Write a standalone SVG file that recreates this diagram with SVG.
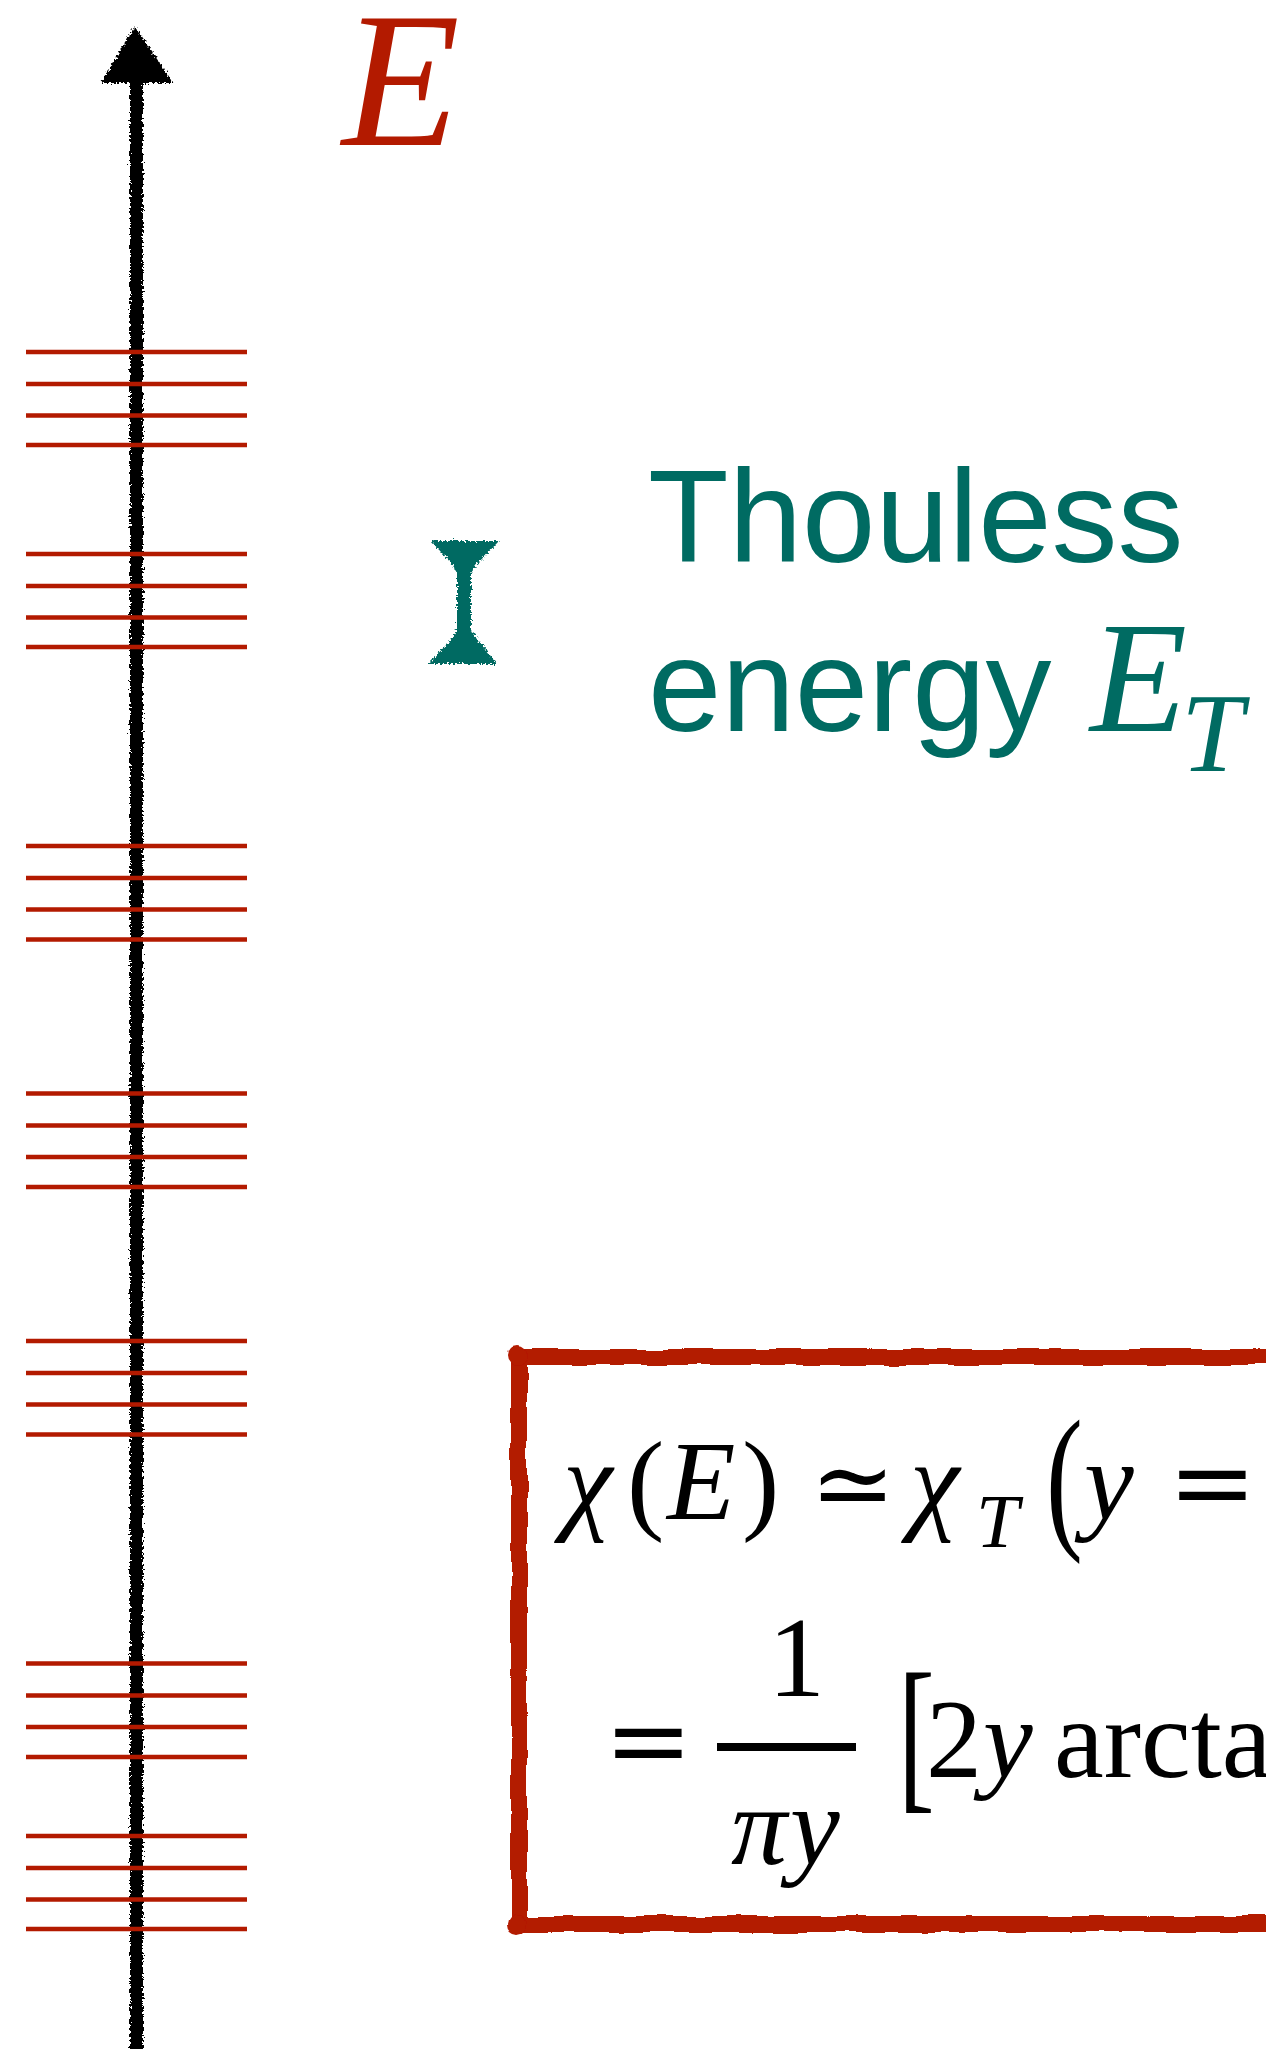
<svg xmlns="http://www.w3.org/2000/svg" width="1266" height="2049" viewBox="0 0 1266 2049">
<defs>
<style>
.lvl{stroke:#B31A00;stroke-width:4.5;fill:none}
.math{font-family:"Liberation Serif","DejaVu Serif",serif;fill:#000}
.it{font-style:italic}
.sym{font-family:"DejaVu Serif","Liberation Serif",serif}
.teal{fill:#006B62}
.sans{font-family:"Liberation Sans",Arial,sans-serif}
</style>
<filter id="chalk" x="-20%" y="-5%" width="140%" height="110%">
<feTurbulence type="fractalNoise" baseFrequency="0.45" numOctaves="2" seed="3" result="n"/>
<feDisplacementMap in="SourceGraphic" in2="n" scale="7" xChannelSelector="R" yChannelSelector="G"/>
</filter>
<filter id="wobble" x="-5%" y="-5%" width="110%" height="110%">
<feTurbulence type="fractalNoise" baseFrequency="0.025" numOctaves="2" seed="7" result="n"/>
<feDisplacementMap in="SourceGraphic" in2="n" scale="7" xChannelSelector="R" yChannelSelector="G"/>
</filter>
</defs>
<rect width="1266" height="2049" fill="#fff"/>

<g id="axis" filter="url(#chalk)">
<line x1="136.5" y1="2055" x2="136.5" y2="78" stroke="#000" stroke-width="13"/>
<polygon points="101,83 173,83 135,26" fill="#000"/>
</g>

<g id="label-E">
<text x="342" y="145" font-family="Liberation Serif,serif" font-style="italic" font-size="193" fill="#B31A00">E</text>
</g>

<g id="levels">
<g id="levels-1"><line class="lvl" x1="26" x2="247" y1="352" y2="352"/><line class="lvl" x1="26" x2="247" y1="384" y2="384"/><line class="lvl" x1="26" x2="247" y1="415.5" y2="415.5"/><line class="lvl" x1="26" x2="247" y1="445" y2="445"/></g>
<g id="levels-2"><line class="lvl" x1="26" x2="247" y1="554" y2="554"/><line class="lvl" x1="26" x2="247" y1="586" y2="586"/><line class="lvl" x1="26" x2="247" y1="617.5" y2="617.5"/><line class="lvl" x1="26" x2="247" y1="647" y2="647"/></g>
<g id="levels-3"><line class="lvl" x1="26" x2="247" y1="846" y2="846"/><line class="lvl" x1="26" x2="247" y1="878" y2="878"/><line class="lvl" x1="26" x2="247" y1="909.5" y2="909.5"/><line class="lvl" x1="26" x2="247" y1="939.5" y2="939.5"/></g>
<g id="levels-4"><line class="lvl" x1="26" x2="247" y1="1093.5" y2="1093.5"/><line class="lvl" x1="26" x2="247" y1="1125.5" y2="1125.5"/><line class="lvl" x1="26" x2="247" y1="1157" y2="1157"/><line class="lvl" x1="26" x2="247" y1="1187" y2="1187"/></g>
<g id="levels-5"><line class="lvl" x1="26" x2="247" y1="1341" y2="1341"/><line class="lvl" x1="26" x2="247" y1="1373" y2="1373"/><line class="lvl" x1="26" x2="247" y1="1404.5" y2="1404.5"/><line class="lvl" x1="26" x2="247" y1="1434.5" y2="1434.5"/></g>
<g id="levels-6"><line class="lvl" x1="26" x2="247" y1="1663.5" y2="1663.5"/><line class="lvl" x1="26" x2="247" y1="1695.5" y2="1695.5"/><line class="lvl" x1="26" x2="247" y1="1727" y2="1727"/><line class="lvl" x1="26" x2="247" y1="1757" y2="1757"/></g>
<g id="levels-7"><line class="lvl" x1="26" x2="247" y1="1836" y2="1836"/><line class="lvl" x1="26" x2="247" y1="1868" y2="1868"/><line class="lvl" x1="26" x2="247" y1="1899.5" y2="1899.5"/><line class="lvl" x1="26" x2="247" y1="1929" y2="1929"/></g>
</g>

<g id="thouless-bar" filter="url(#chalk)">
<path class="teal" d="M431,541 L499,541 L478,563 L471,573 L471,630 L479,641 L497,664 L428,664 L450,641 L457,630 L457,573 L451,563 Z"/>
</g>

<g id="thouless-label" class="teal">
<text class="sans" x="648" y="562" font-size="132">Thouless</text>
<text class="sans" x="648" y="731" font-size="132">energy</text>
<text x="1090" y="731" font-family="Liberation Serif,serif" font-style="italic" font-size="159">E</text>
<text x="1181" y="771" font-family="Liberation Serif,serif" font-style="italic" font-size="112">T</text>
</g>

<g id="formula-box">
<g filter="url(#wobble)" fill="#B31A00">
<path d="M1290,1357 L519,1357 L519,1924 L1290,1924" fill="none" stroke="#B31A00" stroke-width="16" stroke-linejoin="round" stroke-linecap="round"/>
<circle cx="518" cy="1356" r="10"/>
<circle cx="518" cy="1925" r="10"/>
</g>
<g class="math" font-size="112">
<text class="it" x="563" y="1519">χ</text>
<text x="627" y="1519">(</text>
<text class="it" x="667" y="1519">E</text>
<text x="742" y="1519">)</text>
<text class="sym" x="810" y="1519" font-size="102">≃</text>
<text class="it" x="910" y="1519">χ</text>
<text class="it" x="976" y="1547" font-size="77">T</text>
<text transform="translate(1046,1530) scale(0.7,1)" font-size="158">(</text>
<text class="it" x="1084" y="1519">y</text>
<text class="sym" x="1168" y="1519" font-size="106">=</text>
<text class="sym" x="604" y="1777" font-size="106">=</text>
<text x="768" y="1696" font-size="114">1</text>
<line x1="717" y1="1747" x2="856" y2="1747" stroke="#000" stroke-width="8"/>
<text class="it" x="731" y="1864">π</text>
<text class="it" x="790" y="1864">y</text>
<text transform="translate(898,1790) scale(0.65,1)" font-size="170">[</text>
<text x="926" y="1777">2</text>
<text class="it" x="983" y="1777">y</text>
<text x="1054" y="1777">arcta</text>
</g>
</g>
</svg>
